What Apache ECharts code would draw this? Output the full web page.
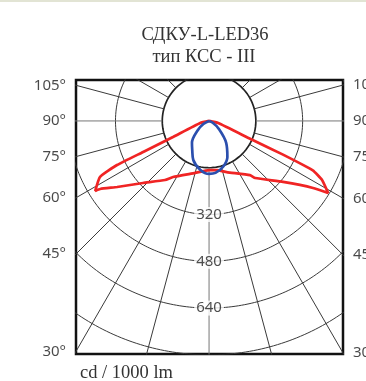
<!DOCTYPE html>
<html>
<head>
<meta charset="utf-8">
<script src="https://cdn.jsdelivr.net/npm/echarts@6/dist/echarts.min.js"></script>
<style>
html,body{margin:0;padding:0;background:#fff;}
#chart{width:366px;height:381px;}
</style>
</head>
<body>
<div id="chart"></div>
<script>
// ---- data ----
const titleText = 'СДКУ-L-LED36';
const subtitleText = 'тип КСС - III';
const unitText = 'cd / 1000 lm';
const angleTicks = [105, 90, 75, 60, 45, 30];          // degrees from nadir, labelled on both sides
const ringValues = [160, 320, 480, 640, 800];          // cd/klm rings
const ringLabels = [320, 480, 640];                    // labelled rings
const spokeStep = 15;                                  // degrees
// red curve (transverse plane): signed angle from nadir (negative = left), intensity
const redAngles = [-90, -77, -66, -64.8, -64.4, -62.8, -58.4, -58, -54.3, -46.8, -36.7, -32.7, -15, 0, 9, 19, 37, 39, 50.5, 57.2, 58.8, 62.4, 64.5, 65.5, 66.5, 77, 90];
const redValues = [0, 31, 135, 249, 349, 419, 457, 439, 387, 310, 252, 228, 184, 168, 170, 185, 232, 251, 328, 423, 476, 436, 393, 276, 155, 32, 0];
// blue curve (longitudinal plane)
const blueAngles = [-90, -62, -51, -38, -30, -22, -10, 0, 7, 17, 27, 38, 52, 64, 90];
const blueValues = [0, 22, 49, 95, 115, 144, 170, 181, 179, 164, 138, 95, 40, 14, 0];

// ---- frame (in cd units) ----
const xMin = -455, xMax = 458, yMin = -797, yMax = 140;
const rad = d => d * Math.PI / 180;
const toXY = (a, r) => [r * Math.sin(rad(a)), -r * Math.cos(rad(a))];

const series = [];
// rings
ringValues.forEach((r, i) => {
  const pts = [];
  for (let a = 0; a <= 360; a += 1) pts.push(toXY(a, r));
  series.push({
    type: 'line', data: pts, symbol: 'none', silent: true, clip: true, z: 1,
    lineStyle: {color: i === 0 ? '#222' : '#3a3a3a', width: i === 0 ? 1.7 : 1}
  });
});
// spokes
for (let a = 0; a < 360; a += spokeStep) {
  series.push({
    type: 'line', data: [toXY(a, ringValues[0]), toXY(a, 1200)], symbol: 'none', silent: true, clip: true, z: 1,
    lineStyle: {color: (a % 90 === 0) ? '#777' : '#3a3a3a', width: 1}
  });
}
// curves
series.push({
  type: 'line', data: redAngles.map((a, i) => toXY(a, redValues[i])), symbol: 'none', smooth: 0.15, z: 3,
  lineStyle: {color: '#f02424', width: 2.7}
});
series.push({
  type: 'line', data: blueAngles.map((a, i) => toXY(a, blueValues[i])), symbol: 'none', smooth: 0.35, z: 4,
  lineStyle: {color: '#2b4fae', width: 2.7}
});
// ring labels
series.push({
  type: 'scatter', symbolSize: 0, clip: false, z: 5, silent: true,
  data: ringLabels.map(r => [0, -r, String(r)]),
  label: {show: true, position: 'inside', formatter: p => p.data[2], color: '#222',
    fontFamily: 'Noto Sans', fontSize: 15, backgroundColor: '#fff', padding: [0, 2]}
});
// angle labels left/right
const leftPts = angleTicks.map(a => { const s = Math.sin(rad(a)), c = Math.cos(rad(a)); const t = -xMin / s; return [xMin, -t * c, a + '°']; });
const rightPts = angleTicks.map(a => { const s = Math.sin(rad(a)), c = Math.cos(rad(a)); const t = xMax / s; return [xMax, -t * c, a + '°']; });
const angLabel = {show: true, formatter: p => p.data[2], color: '#1a1a1a', fontFamily: 'Noto Sans', fontSize: 15, distance: 10};
series.push({type: 'scatter', symbolSize: 0, clip: false, silent: true, data: leftPts, label: Object.assign({position: 'left'}, angLabel)});
series.push({type: 'scatter', symbolSize: 0, clip: false, silent: true, data: rightPts, label: Object.assign({position: 'right'}, angLabel)});

const chart = echarts.init(document.getElementById('chart'), null, {renderer: 'canvas'});
chart.setOption({
  animation: false,
  backgroundColor: '#fff',
  grid: {left: 76, top: 80, width: 267, height: 274, show: true, borderColor: '#111', borderWidth: 2.5, backgroundColor: 'transparent'},
  xAxis: {type: 'value', min: xMin, max: xMax, show: false},
  yAxis: {type: 'value', min: yMin, max: yMax, show: false},
  graphic: [
    {type: 'rect', left: 0, top: 0, shape: {width: 366, height: 2}, style: {fill: '#e2e4d4'}, silent: true},
    {type: 'text', x: 205, y: 35, style: {text: titleText, font: '18.5px "Liberation Serif"', fill: '#333', textAlign: 'center', textVerticalAlign: 'middle'}},
    {type: 'text', x: 204, y: 57, style: {text: subtitleText, font: '18.5px "Liberation Serif"', fill: '#333', textAlign: 'center', textVerticalAlign: 'middle'}},
    {type: 'text', x: 80, y: 373, style: {text: unitText, font: '18.5px "Liberation Serif"', fill: '#333', textAlign: 'left', textVerticalAlign: 'middle'}}
  ],
  series: series
});
</script>
</body>
</html>
